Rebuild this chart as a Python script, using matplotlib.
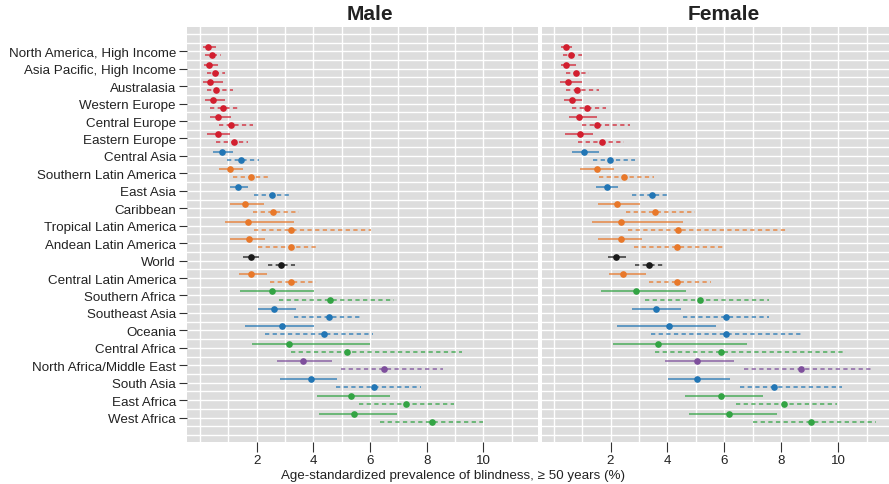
import matplotlib
matplotlib.use('Agg')
import matplotlib.pyplot as plt
import numpy as np

plt.rcParams['font.family'] = ['Liberation Sans', 'DejaVu Sans']

# regions, top to bottom
regions = ['North America, High Income', 'Asia Pacific, High Income', 'Australasia',
           'Western Europe', 'Central Europe', 'Eastern Europe', 'Central Asia',
           'Southern Latin America', 'East Asia', 'Caribbean', 'Tropical Latin America',
           'Andean Latin America', 'World', 'Central Latin America', 'Southern Africa',
           'Southeast Asia', 'Oceania', 'Central Africa', 'North Africa/Middle East',
           'South Asia', 'East Africa', 'West Africa']

red, blue, orange, green, purple, black = '#D21F2F', '#2276B5', '#E8782A', '#33A444', '#7E4F9C', '#1a1a1a'
region_colors = [red, red, red, red, red, red, blue, orange, blue, orange, orange,
                 orange, black, orange, green, blue, blue, green, purple, blue, green, green]

# male, solid (recent year)
male_new = [0.29, 0.33, 0.35, 0.46, 0.62, 0.64, 0.76, 1.05, 1.33, 1.60, 1.69, 1.73, 1.79, 1.79,
            2.54, 2.62, 2.89, 3.15, 3.64, 3.92, 5.34, 5.45]
male_new_lo = [0.12, 0.14, 0.12, 0.18, 0.35, 0.26, 0.47, 0.68, 1.06, 1.06, 0.89, 1.06, 1.51, 1.36,
               1.41, 2.04, 1.59, 1.84, 2.73, 2.84, 4.13, 4.19]
male_new_hi = [0.56, 0.62, 0.82, 0.88, 1.09, 1.06, 1.15, 1.51, 1.68, 2.26, 3.32, 2.29, 2.07, 2.35,
               4.04, 3.39, 4.01, 6.01, 4.65, 4.85, 6.69, 6.94]
# male, dashed (earlier year)
male_old = [0.44, 0.53, 0.58, 0.82, 1.09, 1.20, 1.46, 1.79, 2.54, 2.59, 3.20, 3.20, 2.87, 3.20,
            4.59, 4.54, 4.38, 5.18, 6.49, 6.14, 7.28, 8.19]
male_old_lo = [0.18, 0.26, 0.24, 0.35, 0.68, 0.56, 0.94, 1.15, 1.92, 1.86, 1.92, 2.04, 2.39, 2.47,
               2.80, 3.33, 2.29, 3.21, 4.98, 4.79, 5.61, 6.35]
male_old_hi = [0.74, 0.88, 1.18, 1.41, 1.86, 1.71, 2.09, 2.49, 3.26, 3.48, 6.02, 4.19, 3.36, 4.08,
               6.84, 5.71, 6.12, 9.24, 8.56, 7.79, 8.96, 9.98]

# female, solid (recent year)
female_new = [0.45, 0.44, 0.52, 0.65, 0.89, 0.93, 1.08, 1.51, 1.86, 2.24, 2.35, 2.37, 2.20, 2.44,
              2.88, 3.59, 4.06, 3.67, 5.05, 5.02, 5.87, 6.17]
female_new_lo = [0.25, 0.25, 0.24, 0.37, 0.55, 0.41, 0.64, 0.92, 1.48, 1.56, 1.34, 1.56, 1.92, 1.93,
                 1.67, 2.77, 2.23, 2.09, 3.92, 4.01, 4.62, 4.76]
female_new_hi = [0.66, 0.80, 1.01, 0.98, 1.51, 1.37, 1.60, 2.11, 2.27, 3.03, 4.53, 3.12, 2.56, 3.23,
                 4.64, 4.46, 5.69, 6.81, 6.35, 6.21, 7.37, 7.83]
# female, dashed (earlier year)
female_old = [0.61, 0.79, 0.81, 1.17, 1.52, 1.69, 1.97, 2.48, 3.47, 3.57, 4.37, 4.32, 3.36, 4.34,
              5.15, 6.06, 6.06, 5.87, 8.68, 7.75, 8.09, 9.05]
female_old_lo = [0.34, 0.45, 0.45, 0.63, 0.98, 0.85, 1.39, 1.60, 2.74, 2.56, 2.62, 2.83, 2.85, 3.34,
                 3.22, 4.53, 3.43, 3.57, 6.69, 6.54, 6.40, 6.99]
female_old_hi = [0.98, 1.23, 1.60, 1.83, 2.70, 2.47, 2.85, 3.52, 4.06, 4.96, 8.21, 5.95, 3.89, 5.52,
                 7.55, 7.58, 8.72, 10.26, 11.17, 10.14, 9.97, 11.31]

W, H = 889, 485
fig = plt.figure(figsize=(W / 100, H / 100), dpi=100)


def px_axes(left, right, top, bottom):
    return fig.add_axes([left / W, 1 - bottom / H, (right - left) / W, (bottom - top) / H])


ax_m = px_axes(187, 538, 28, 442.7)
ax_f = px_axes(541.5, 889, 28, 442.7)

n = len(regions)
ypos = np.arange(n, 0, -1)
off = 0.23
fs = 9.6


def panel(ax, new, new_lo, new_hi, old, old_lo, old_hi, xlim):
    ax.set_facecolor('#dddddd')
    for s in ax.spines.values():
        s.set_visible(False)
    for gy in np.arange(-0.5, n + 1.6, 0.5):
        ax.axhline(gy, color='white', lw=1.0, zorder=0)
    for gx in range(0, 13):
        ax.axvline(gx, color='white', lw=1.0, zorder=0)
    for i in range(n):
        c = region_colors[i]
        y1 = ypos[i] + off
        y2 = ypos[i] - off
        ax.plot([new_lo[i], new_hi[i]], [y1, y1], color=c, lw=1.1, alpha=0.85,
                solid_capstyle='butt', zorder=2)
        ax.plot(new[i], y1, 'o', color=c, ms=4.8, mew=0, zorder=3)
        ax.plot([old_lo[i], old_hi[i]], [y2, y2], color=c, lw=1.1, alpha=0.85,
                dashes=(2.8, 2.2), dash_capstyle='butt', zorder=2)
        ax.plot(old[i], y2, 'o', color=c, ms=4.8, mew=0, zorder=3)
    ax.set_xlim(*xlim)
    ax.set_ylim(-0.38, n + 1.39)
    ax.set_xticks([2, 4, 6, 8, 10])
    ax.tick_params(axis='x', length=7, width=0.8, color='#333333', labelsize=fs,
                   labelcolor='#222222', pad=2)


panel(ax_m, male_new, male_new_lo, male_new_hi, male_old, male_old_lo, male_old_hi, (-0.46, 11.93))
panel(ax_f, female_new, female_new_lo, female_new_hi, female_old, female_old_lo, female_old_hi,
      (-0.425, 11.78))

ax_m.set_yticks(ypos)
ax_m.set_yticklabels(regions)
ax_m.tick_params(axis='y', length=6, width=0.8, color='#333333', labelsize=fs,
                 labelcolor='#222222', pad=2)
ax_f.set_yticks([])

fig.text(370 / W, 1 - 15 / H, 'Male', ha='center', va='center', fontsize=15, fontweight='bold',
         color='#222222')
fig.text(724 / W, 1 - 15 / H, 'Female', ha='center', va='center', fontsize=15, fontweight='bold',
         color='#222222')
fig.text(453 / W, 1 - 476 / H, 'Age-standardized prevalence of blindness, \u2265 50 years (%)',
         ha='center', va='center', fontsize=fs, color='#222222')

fig.savefig('out.png', dpi=100)
